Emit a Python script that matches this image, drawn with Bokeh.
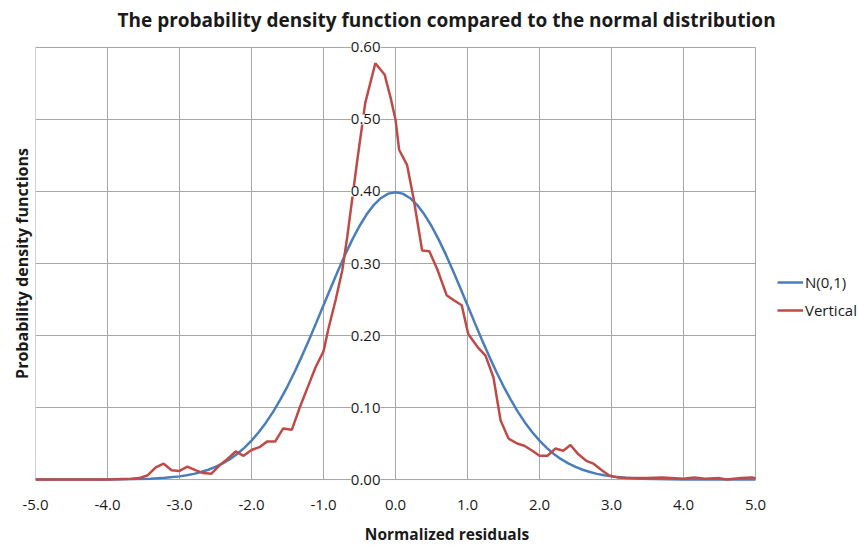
from bokeh.plotting import figure
from bokeh.models import (Range1d, FixedTicker, PrintfTickFormatter, ColumnDataSource,
                          LabelSet, Legend, LegendItem)
from bokeh.core.properties import value
from bokeh.embed import file_html
from bokeh.resources import INLINE

# ---- data ----
x_ticks = [-5, -4, -3, -2, -1, 0, 1, 2, 3, 4, 5]
y_ticks = [0.0, 0.1, 0.2, 0.3, 0.4, 0.5, 0.6]
y_tick_labels = ["0.00", "0.10", "0.20", "0.30", "0.40", "0.50", "0.60"]

normal_x = [-5.0, -4.5, -4.0, -3.8, -3.6, -3.4, -3.2,
            -3.0, -2.9, -2.8, -2.7, -2.6, -2.5, -2.4, -2.3, -2.2, -2.1,
            -2.0, -1.9, -1.8, -1.7, -1.6, -1.5, -1.4, -1.3, -1.2, -1.1,
            -1.0, -0.9, -0.8, -0.7, -0.6, -0.5, -0.4, -0.3, -0.2, -0.1,
            0.0, 0.1, 0.2, 0.3, 0.4, 0.5, 0.6, 0.7, 0.8, 0.9,
            1.0, 1.1, 1.2, 1.3, 1.4, 1.5, 1.6, 1.7, 1.8, 1.9,
            2.0, 2.1, 2.2, 2.3, 2.4, 2.5, 2.6, 2.7, 2.8, 2.9, 3.0,
            3.2, 3.4, 3.6, 3.8, 4.0, 4.5, 5.0]
normal_y = [0.0000, 0.0000, 0.0001, 0.0003, 0.0006, 0.0012, 0.0024,
            0.0044, 0.0060, 0.0079, 0.0104, 0.0136, 0.0175, 0.0224, 0.0283, 0.0355, 0.0440,
            0.0540, 0.0656, 0.0790, 0.0940, 0.1109, 0.1295, 0.1497, 0.1714, 0.1942, 0.2179,
            0.2420, 0.2661, 0.2897, 0.3123, 0.3332, 0.3521, 0.3683, 0.3814, 0.3910, 0.3970,
            0.3989, 0.3970, 0.3910, 0.3814, 0.3683, 0.3521, 0.3332, 0.3123, 0.2897, 0.2661,
            0.2420, 0.2179, 0.1942, 0.1714, 0.1497, 0.1295, 0.1109, 0.0940, 0.0790, 0.0656,
            0.0540, 0.0440, 0.0355, 0.0283, 0.0224, 0.0175, 0.0136, 0.0104, 0.0079, 0.0060, 0.0044,
            0.0024, 0.0012, 0.0006, 0.0003, 0.0001, 0.0000, 0.0000]

vert_x = [-5.00, -4.50, -4.00, -3.67, -3.56, -3.44, -3.33, -3.22, -3.11, -3.00, -2.89, -2.78,
          -2.67, -2.56, -2.44, -2.33, -2.22, -2.11, -2.00, -1.89, -1.78, -1.67, -1.56, -1.44,
          -1.33, -1.22, -1.11, -1.00, -0.93, -0.83, -0.74, -0.67, -0.53, -0.42, -0.28, -0.15,
          -0.07, 0.00, 0.05, 0.16, 0.25, 0.37, 0.47, 0.58, 0.71, 0.81, 0.92, 1.01, 1.14, 1.25,
          1.36, 1.46, 1.57, 1.69, 1.79, 1.90, 2.00, 2.11, 2.22, 2.33, 2.43, 2.54, 2.65, 2.75,
          2.87, 2.97, 3.08, 3.20, 3.50, 3.70, 4.00, 4.15, 4.30, 4.50, 4.60, 4.80, 4.95, 5.00]
vert_y = [0.000, 0.000, 0.000, 0.001, 0.002, 0.006, 0.017, 0.022, 0.013, 0.012, 0.018, 0.013,
          0.009, 0.008, 0.020, 0.029, 0.039, 0.033, 0.041, 0.045, 0.053, 0.053, 0.071, 0.069,
          0.100, 0.128, 0.156, 0.178, 0.210, 0.250, 0.290, 0.337, 0.444, 0.523, 0.578, 0.562,
          0.531, 0.500, 0.458, 0.437, 0.391, 0.318, 0.317, 0.292, 0.256, 0.249, 0.242, 0.202,
          0.184, 0.172, 0.142, 0.082, 0.057, 0.050, 0.047, 0.040, 0.033, 0.033, 0.043, 0.040,
          0.048, 0.035, 0.026, 0.022, 0.0125, 0.0055, 0.003, 0.002, 0.002, 0.003, 0.001, 0.003,
          0.001, 0.002, 0.000, 0.002, 0.003, 0.002]

series_names = ["N(0,1)", "Vertical"]
series_colors = ["#4a7ebb", "#be4b48"]

FONT = "Open Sans"
GRID = "#a6a6a6"
TXT = "#1a1a1a"

x_lo, x_hi = x_ticks[0], x_ticks[-1]
y_lo, y_hi = y_ticks[0], y_ticks[-1]
pad_y = 0.0166   # room above/below so the end labels on the vertical axis are not clipped
pad_x = 1.4306   # room on the right of the plotting box for the legend

p = figure(width=858, height=547, output_backend="svg", toolbar_location=None,
           x_range=Range1d(x_lo, x_hi + pad_x), y_range=Range1d(y_lo - pad_y, y_hi + pad_y),
           min_border_left=35, min_border_right=0, min_border_top=35, min_border_bottom=54)

p.title.text = "The probability density function compared to the normal distribution"
p.title.text_font = FONT
p.title.text_font_style = "bold"
p.title.text_font_size = "19px"
p.title.text_color = TXT
p.title.align = "left"
p.title.offset = 82
p.title.standoff = 5

p.outline_line_color = None
p.xgrid.visible = False
p.ygrid.visible = False
p.background_fill_color = "white"
p.border_fill_color = "white"

# grid lines limited to the plotting box
p.segment(x0=x_ticks, y0=[y_lo] * len(x_ticks), x1=x_ticks, y1=[y_hi] * len(x_ticks),
          line_color=GRID, line_width=1)
p.segment(x0=[x_lo] * len(y_ticks), y0=y_ticks, x1=[x_hi] * len(y_ticks), y1=y_ticks,
          line_color=GRID, line_width=1)

xa = p.xaxis[0]
xa.ticker = FixedTicker(ticks=x_ticks)
xa.formatter = PrintfTickFormatter(format="%.1f")
xa.axis_line_color = None
xa.major_tick_line_color = None
xa.minor_tick_line_color = None
xa.major_tick_out = 0
xa.major_tick_in = 0
xa.major_label_standoff = 8
xa.major_label_text_font = FONT
xa.major_label_text_font_size = "15px"
xa.major_label_text_color = TXT
xa.axis_label = "Normalized residuals"
xa.axis_label_text_font = FONT
xa.axis_label_text_font_style = "bold"
xa.axis_label_text_font_size = "15.5px"
xa.axis_label_standoff = 10
xa.axis_label_text_color = TXT

ya = p.yaxis[0]
ya.ticker = FixedTicker(ticks=[])
ya.axis_line_color = None
ya.major_tick_line_color = None
ya.minor_tick_line_color = None
ya.major_label_text_font_size = "0px"
ya.axis_label = "Probability density functions"
ya.axis_label_text_font = FONT
ya.axis_label_text_font_style = "bold"
ya.axis_label_text_font_size = "16px"
ya.axis_label_standoff = 3
ya.axis_label_text_color = TXT

r1 = p.line(normal_x, normal_y, line_color=series_colors[0], line_width=2.5)
r2 = p.line(vert_x, vert_y, line_color=series_colors[1], line_width=2.5)

# y tick labels sitting on the vertical axis at x = 0
lab_src = ColumnDataSource(dict(x=[0] * len(y_ticks), y=y_ticks, t=y_tick_labels))
labels = LabelSet(x="x", y="y", text="t", source=lab_src, x_offset=-15,
                  text_align="right", text_baseline="middle",
                  text_font=value(FONT), text_font_size=value("15px"), text_color=TXT,
                  background_fill_color="white", background_fill_alpha=1.0)
p.add_layout(labels)

legend = Legend(items=[LegendItem(label=series_names[0], renderers=[r1]),
                       LegendItem(label=series_names[1], renderers=[r2])],
                location=(742, 171), orientation="vertical",
                background_fill_alpha=0, border_line_color=None,
                padding=0, margin=0, spacing=8, label_height=20, glyph_height=20,
                glyph_width=26, label_standoff=2,
                label_text_font=FONT, label_text_font_size="15px", label_text_color=TXT)
p.add_layout(legend)

open("out.html", "w").write(file_html(p, INLINE))
